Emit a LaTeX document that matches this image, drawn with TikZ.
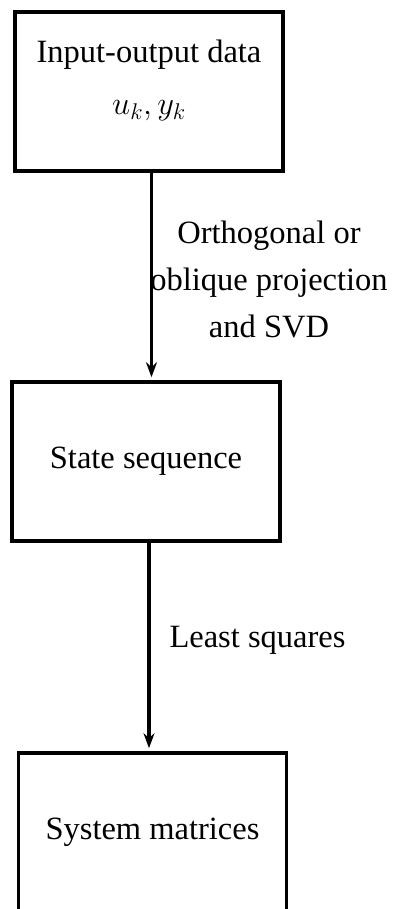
\RequirePackage{fix-cm}
\documentclass[tikz,border=0pt]{standalone}
\usepackage{fontspec}
\setmainfont{Liberation Serif}
\usepackage{tikz}
\usetikzlibrary{arrows.meta,positioning,calc}
\tikzstyle{stagebox} = [draw, rectangle, line width=3.6pt, minimum width=268pt, minimum height=159pt, align=center, font=\fontsize{32.5}{52}\selectfont]
\tikzstyle{steplabel} = [draw=none, align=center, font=\fontsize{32.5}{47}\selectfont]
\tikzstyle{flow} = [line width=3.2pt, -{Stealth[length=15pt,width=11pt,inset=5pt]}, shorten >=3pt]

\begin{document}
\begin{tikzpicture}[x=1pt,y=-1pt]
    \useasboundingbox (0,0) rectangle (398,909);
    % Input-output data
    \node[stagebox, text height=74pt, text depth=27pt] (Data Box) at (149,91.5) {Input-output data\\ $u_k, y_k$};
    % State sequence
    \node[stagebox] (State Box) at (146,461.5) {State sequence};
    % System matrices
    \node[stagebox] (Matrix Box) at (152.5,832.5) {System matrices};
    % Arrows
    \draw[flow] ([xshift=2.5pt]Data Box.south) -- ([xshift=2.5pt]Data Box.south |- State Box.north);
    \draw[flow] ([xshift=3pt]State Box.south) -- ([xshift=3pt]State Box.south |- Matrix Box.north);
    % Step labels
    \node[steplabel] (Projection) at (269,279) {Orthogonal or\\oblique projection\\and SVD};
    \node[steplabel] (Least Squares) at (257.5,640) {Least squares};
\end{tikzpicture}
\end{document}
